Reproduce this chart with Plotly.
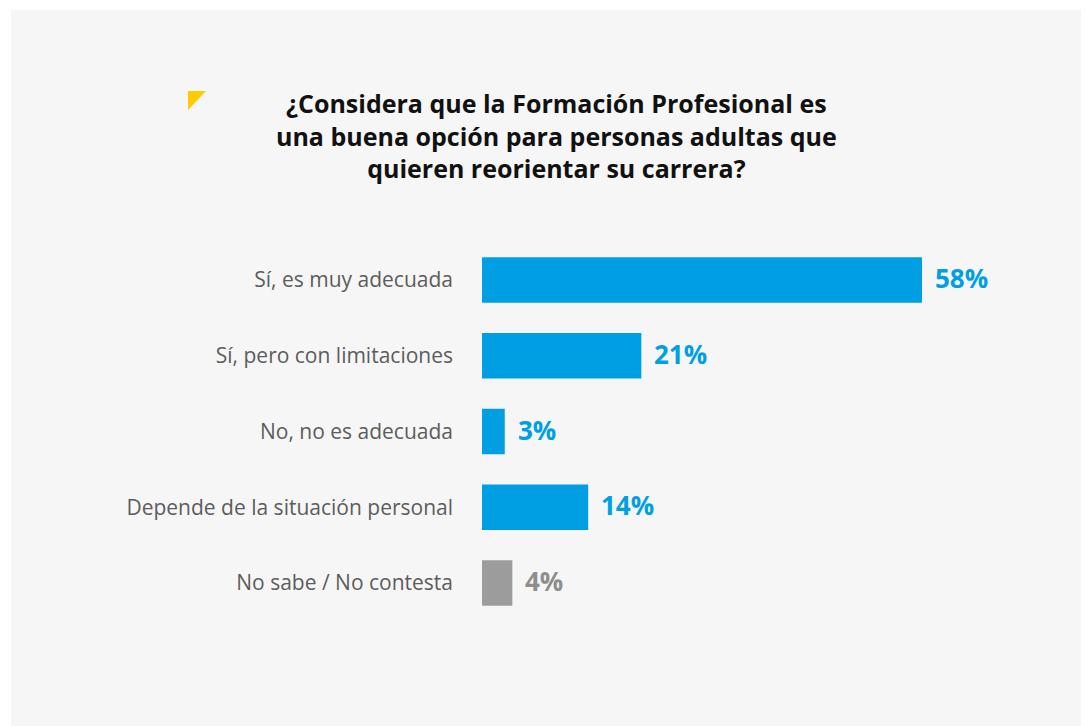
import plotly.graph_objects as go

categories = ["Sí, es muy adecuada", "Sí, pero con limitaciones", "No, no es adecuada",
              "Depende de la situación personal", "No sabe / No contesta"]
values = [58, 21, 3, 14, 4]
value_labels = ["58%", "21%", "3%", "14%", "4%"]
bar_colors = ["#009fe3", "#009fe3", "#009fe3", "#009fe3", "#9d9c9c"]
label_colors = ["#009fe3", "#009fe3", "#009fe3", "#009fe3", "#8e8e8e"]
title_text = ("¿Considera que la Formación Profesional es<br>"
              "una buena opción para personas adultas que<br>"
              "quieren reorientar su carrera?")

OFF = 8  # page body margin
W, H = 1089 - OFF, 726 - OFF
ML, MR, MT, MB = 482 - OFF, 38, 242 - OFF, 105
PW = W - ML - MR
PH = H - MT - MB


def px(x):
    return (x - OFF - ML) / PW


def py(y):
    return 1 - (y - OFF - MT) / PH


fig = go.Figure()
fig.add_trace(go.Bar(
    x=values, y=categories, orientation="h",
    marker=dict(color=bar_colors, line=dict(width=0)),
    width=0.6, hoverinfo="skip",
))

for v, c, lab, col in zip(values, categories, value_labels, label_colors):
    fig.add_annotation(x=v, y=c, xref="x", yref="y", text="<b>%s</b>" % lab,
                       showarrow=False, xanchor="left", yanchor="middle", xshift=11, yshift=2,
                       font=dict(family="Open Sans", size=26, color=col))

fig.add_annotation(x=px(556), y=py(84), xref="paper", yref="paper",
                   text="<b>%s</b>" % title_text, showarrow=False,
                   xanchor="center", yanchor="top", align="center",
                   font=dict(family="Open Sans", size=25, color="#111111"))

shapes = [
    dict(type="rect", xref="paper", yref="paper", x0=px(11), x1=px(1100), y0=py(10), y1=py(740),
         fillcolor="#f6f6f6", line=dict(width=0), layer="below"),
    dict(type="path", xref="paper", yref="paper",
         path="M %f %f L %f %f L %f %f Z" % (px(188), py(91), px(206), py(91), px(188), py(110)),
         fillcolor="#ffcc00", line=dict(width=0), layer="above"),
]

fig.update_layout(
    width=W, height=H,
    margin=dict(l=ML, r=MR, t=MT, b=MB, pad=0),
    paper_bgcolor="#ffffff", plot_bgcolor="rgba(0,0,0,0)",
    showlegend=False, shapes=shapes,
    xaxis=dict(range=[0, 75], visible=False, fixedrange=True),
    yaxis=dict(autorange="reversed", showgrid=False, zeroline=False, showline=False,
               ticks="", ticklabelstandoff=28,
               tickfont=dict(family="Open Sans", size=21, color="#5c5c5c")),
    bargap=0.4,
)

fig.write_html("out.html")
